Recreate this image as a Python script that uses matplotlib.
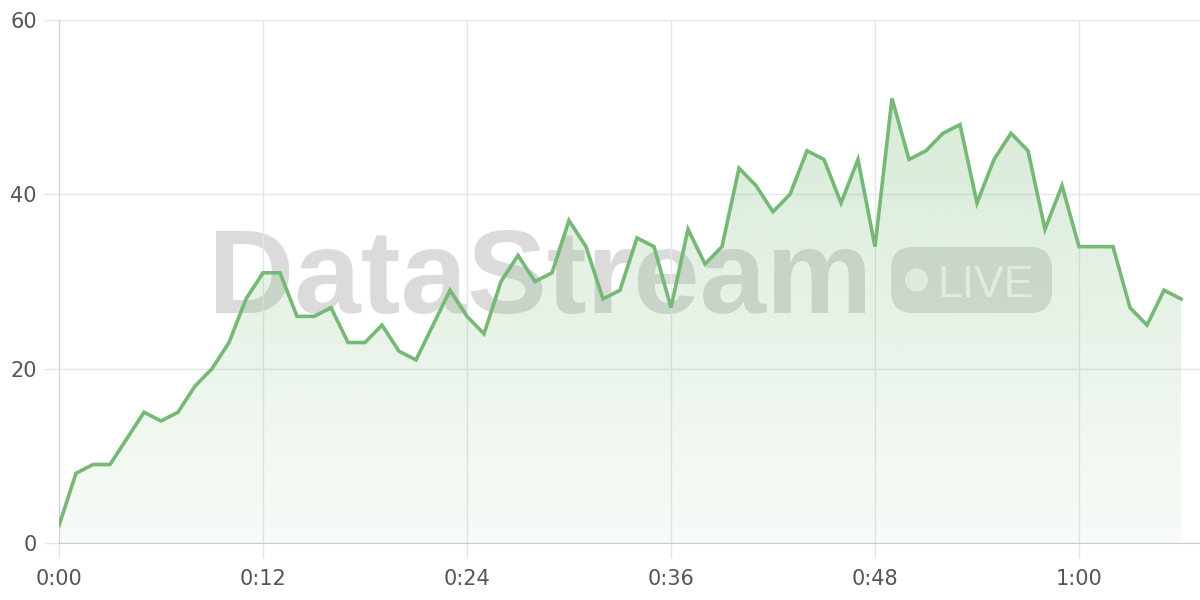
import numpy as np
import matplotlib
matplotlib.use("Agg")
import matplotlib.pyplot as plt
from matplotlib.patches import FancyBboxPatch, Circle
from matplotlib.ticker import FuncFormatter

# one sample per second
seconds = list(range(67))
values = [2, 8, 9, 9, 12, 15, 14, 15, 18, 20, 23, 28, 31, 31, 26, 26, 27, 23, 23, 25,
          22, 21, 25, 29, 26, 24, 30, 33, 30, 31, 37, 34, 28, 29, 35, 34, 27, 36, 32, 34,
          43, 41, 38, 40, 45, 44, 39, 44, 34, 51, 44, 45, 47, 48, 39, 44, 47, 45, 36, 41,
          34, 34, 34, 27, 25, 29, 28]
x_ticks = [0, 12, 24, 36, 48, 60]
y_ticks = [0, 20, 40, 60]

line_color = '#76b876'
grid_color = '#e6e6e6'
label_color = '#555555'

fig = plt.figure(figsize=(12, 6), dpi=100)
ax = fig.add_axes([59 / 1200, 57 / 600, 1141 / 1200, 523 / 600])
ax.set_zorder(1)

ax.set_xlim(0, 1141 / 17)
ax.set_ylim(0, 60)

# watermark, behind the axes
fig.text(2.08, 2.87, 'DataStream', transform=fig.dpi_scale_trans,
         fontsize=86, fontweight='bold', family='Liberation Sans',
         color='black', alpha=0.14, ha='left', va='baseline', zorder=-2)
badge = FancyBboxPatch((8.91, 2.87), 1.61, 0.66, boxstyle='round,pad=0,rounding_size=0.22',
                       transform=fig.dpi_scale_trans, facecolor='black', alpha=0.13,
                       edgecolor='none', zorder=-2)
fig.patches.append(badge)
fig.patches.append(Circle((9.165, 3.20), 0.115, transform=fig.dpi_scale_trans,
                          facecolor='white', alpha=0.8, edgecolor='none', zorder=-1))
fig.text(9.37, 3.03, 'LIVE', transform=fig.dpi_scale_trans, fontsize=32,
         family='Liberation Sans', color='white', alpha=0.8,
         ha='left', va='baseline', zorder=-1)
ax.set_facecolor('none')
fig.patch.set_facecolor('white')

# gradient fill under the line
fill = ax.fill_between(seconds, values, 0, facecolor='none', edgecolor='none')
grad = np.zeros((256, 1, 4))
grad[..., 0], grad[..., 1], grad[..., 2] = matplotlib.colors.to_rgb(line_color)
grad[:, 0, 3] = np.linspace(0.05, 0.29, 256)
img = ax.imshow(grad, extent=[0, seconds[-1], 0, max(values)], origin='lower',
                aspect='auto', zorder=2)
img.set_clip_path(fill.get_paths()[0], transform=ax.transData)

ax.plot(seconds, values, color=line_color, lw=2.6, zorder=3, solid_joinstyle='miter')

ax.set_xticks(x_ticks)
ax.set_yticks(y_ticks)
ax.xaxis.set_major_formatter(FuncFormatter(lambda v, p: f"{int(v) // 60}:{int(v) % 60:02d}"))
ax.grid(True, color=grid_color, lw=1)
ax.set_axisbelow(True)
ax.tick_params(length=11, width=1, color=grid_color, labelcolor=label_color, labelsize=15)
ax.tick_params(axis='x', pad=8)
ax.tick_params(axis='y', pad=5)

for s in ['top', 'right']:
    ax.spines[s].set_visible(False)
ax.spines['left'].set_color('#d4d4d4')
ax.spines['bottom'].set_color('#cccccc')

fig.savefig('out.png', dpi=100)
